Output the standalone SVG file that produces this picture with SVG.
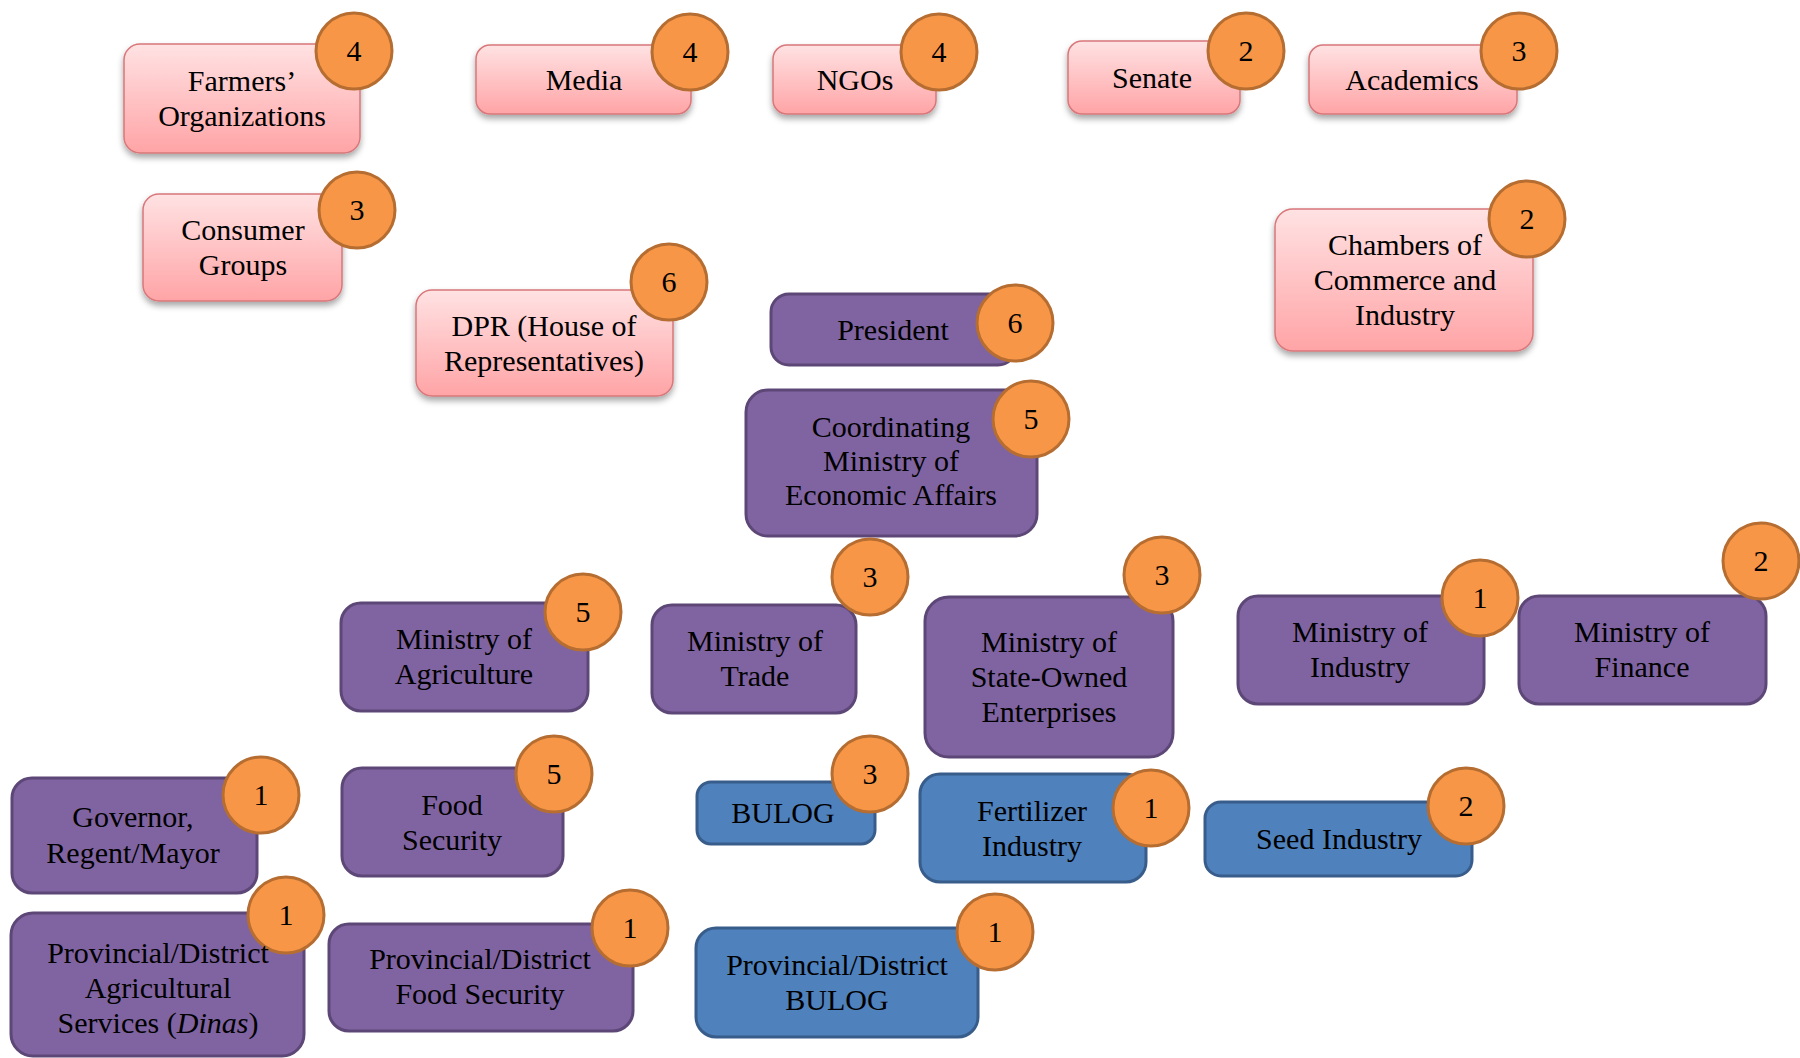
<svg xmlns="http://www.w3.org/2000/svg" width="1800" height="1058" viewBox="0 0 1800 1058" font-family="Liberation Serif, Tinos, Times New Roman, DejaVu Serif, serif" font-size="30">
<defs>
<linearGradient id="pinkGrad" x1="0" y1="0" x2="0" y2="1">
<stop offset="0" stop-color="#ffe2e3"/>
<stop offset="1" stop-color="#ffa4a6"/>
</linearGradient>
<filter id="shadow" x="-10%" y="-10%" width="120%" height="140%">
<feDropShadow dx="0" dy="4" stdDeviation="3" flood-color="#000" flood-opacity="0.35"/>
</filter>
</defs>
<style>
.pink{fill:url(#pinkGrad);stroke:#d8777a;stroke-width:1.5;filter:url(#shadow)}
.purple{fill:#8064a2;stroke:#5c4776;stroke-width:3}
.blue{fill:#4f81bd;stroke:#385d8a;stroke-width:3}
.badge{fill:#f79646;stroke:#b66d31;stroke-width:3}
.t{fill:#000;text-anchor:middle}
</style>
<rect width="1800" height="1058" fill="#fff"/>
<g id="connectors"/>

<g id="farmers" class="t">
<rect class="pink" x="124" y="44" width="236" height="109" rx="16"/>
<text x="242" y="91">Farmers’</text>
<text x="242" y="126">Organizations</text>
<circle class="badge" cx="354" cy="51" r="38"/><text x="354" y="61">4</text>
</g>
<g id="media" class="t">
<rect class="pink" x="476" y="45" width="215" height="69" rx="14"/>
<text x="584" y="90">Media</text>
<circle class="badge" cx="690" cy="52" r="38"/><text x="690" y="62">4</text>
</g>
<g id="ngos" class="t">
<rect class="pink" x="773" y="45" width="163" height="69" rx="14"/>
<text x="855" y="90">NGOs</text>
<circle class="badge" cx="939" cy="52" r="38"/><text x="939" y="62">4</text>
</g>
<g id="senate" class="t">
<rect class="pink" x="1068" y="41" width="172" height="73" rx="14"/>
<text x="1152" y="88">Senate</text>
<circle class="badge" cx="1246" cy="51" r="38"/><text x="1246" y="61">2</text>
</g>
<g id="academics" class="t">
<rect class="pink" x="1309" y="45" width="208" height="69" rx="14"/>
<text x="1412" y="90">Academics</text>
<circle class="badge" cx="1519" cy="51" r="38"/><text x="1519" y="61">3</text>
</g>
<g id="consumer" class="t">
<rect class="pink" x="143" y="194" width="199" height="107" rx="16"/>
<text x="243" y="240">Consumer</text>
<text x="243" y="275">Groups</text>
<circle class="badge" cx="357" cy="210" r="38"/><text x="357" y="220">3</text>
</g>
<g id="chambers" class="t">
<rect class="pink" x="1275" y="209" width="258" height="142" rx="18"/>
<text x="1405" y="255">Chambers of</text>
<text x="1405" y="290">Commerce and</text>
<text x="1405" y="325">Industry</text>
<circle class="badge" cx="1527" cy="219" r="38"/><text x="1527" y="229">2</text>
</g>
<g id="dpr" class="t">
<rect class="pink" x="416" y="290" width="257" height="106" rx="16"/>
<text x="544" y="336">DPR (House of</text>
<text x="544" y="371">Representatives)</text>
<circle class="badge" cx="669" cy="282" r="38"/><text x="669" y="292">6</text>
</g>

<g id="president" class="t">
<rect class="purple" x="771" y="294" width="245" height="71" rx="18"/>
<text x="893" y="340">President</text>
<circle class="badge" cx="1015" cy="323" r="38"/><text x="1015" y="333">6</text>
</g>
<g id="coordinating" class="t">
<rect class="purple" x="746" y="390" width="291" height="146" rx="22"/>
<text x="891" y="437">Coordinating</text>
<text x="891" y="471">Ministry of</text>
<text x="891" y="505">Economic Affairs</text>
<circle class="badge" cx="1031" cy="419" r="38"/><text x="1031" y="429">5</text>
</g>
<g id="agriculture" class="t">
<rect class="purple" x="341" y="603" width="247" height="108" rx="20"/>
<text x="464" y="649">Ministry of</text>
<text x="464" y="684">Agriculture</text>
<circle class="badge" cx="583" cy="612" r="38"/><text x="583" y="622">5</text>
</g>
<g id="trade" class="t">
<rect class="purple" x="652" y="605" width="204" height="108" rx="20"/>
<text x="755" y="651">Ministry of</text>
<text x="755" y="686">Trade</text>
<circle class="badge" cx="870" cy="577" r="38"/><text x="870" y="587">3</text>
</g>
<g id="soe" class="t">
<rect class="purple" x="925" y="597" width="248" height="160" rx="24"/>
<text x="1049" y="652">Ministry of</text>
<text x="1049" y="687">State-Owned</text>
<text x="1049" y="722">Enterprises</text>
<circle class="badge" cx="1162" cy="575" r="38"/><text x="1162" y="585">3</text>
</g>
<g id="industry" class="t">
<rect class="purple" x="1238" y="596" width="246" height="108" rx="20"/>
<text x="1360" y="642">Ministry of</text>
<text x="1360" y="677">Industry</text>
<circle class="badge" cx="1480" cy="598" r="38"/><text x="1480" y="608">1</text>
</g>
<g id="finance" class="t">
<rect class="purple" x="1519" y="596" width="247" height="108" rx="20"/>
<text x="1642" y="642">Ministry of</text>
<text x="1642" y="677">Finance</text>
<circle class="badge" cx="1761" cy="561" r="38"/><text x="1761" y="571">2</text>
</g>
<g id="governor" class="t">
<rect class="purple" x="12" y="778" width="245" height="115" rx="20"/>
<text x="133" y="827">Governor,</text>
<text x="133" y="863">Regent/Mayor</text>
<circle class="badge" cx="261" cy="795" r="38"/><text x="261" y="805">1</text>
</g>
<g id="foodsecurity" class="t">
<rect class="purple" x="342" y="768" width="221" height="108" rx="20"/>
<text x="452" y="815">Food</text>
<text x="452" y="850">Security</text>
<circle class="badge" cx="554" cy="774" r="38"/><text x="554" y="784">5</text>
</g>
<g id="provagri" class="t">
<rect class="purple" x="11" y="913" width="293" height="143" rx="22"/>
<circle class="badge" cx="286" cy="915" r="38"/><text x="286" y="925">1</text>
<text x="158" y="963">Provincial/District</text>
<text x="158" y="998">Agricultural</text>
<text x="158" y="1033">Services (<tspan font-style="italic">Dinas</tspan>)</text>
</g>
<g id="provfood" class="t">
<rect class="purple" x="329" y="924" width="304" height="107" rx="20"/>
<text x="480" y="969">Provincial/District</text>
<text x="480" y="1004">Food Security</text>
<circle class="badge" cx="630" cy="928" r="38"/><text x="630" y="938">1</text>
</g>

<g id="bulog" class="t">
<rect class="blue" x="697" y="782" width="178" height="62" rx="14"/>
<text x="783" y="823">BULOG</text>
<circle class="badge" cx="870" cy="774" r="38"/><text x="870" y="784">3</text>
</g>
<g id="fertilizer" class="t">
<rect class="blue" x="920" y="774" width="226" height="108" rx="20"/>
<text x="1032" y="821">Fertilizer</text>
<text x="1032" y="856">Industry</text>
<circle class="badge" cx="1151" cy="808" r="38"/><text x="1151" y="818">1</text>
</g>
<g id="seed" class="t">
<rect class="blue" x="1205" y="802" width="267" height="74" rx="16"/>
<text x="1339" y="849">Seed Industry</text>
<circle class="badge" cx="1466" cy="806" r="38"/><text x="1466" y="816">2</text>
</g>
<g id="provbulog" class="t">
<rect class="blue" x="696" y="928" width="282" height="109" rx="20"/>
<text x="837" y="975">Provincial/District</text>
<text x="837" y="1010">BULOG</text>
<circle class="badge" cx="995" cy="932" r="38"/><text x="995" y="942">1</text>
</g>
</svg>
